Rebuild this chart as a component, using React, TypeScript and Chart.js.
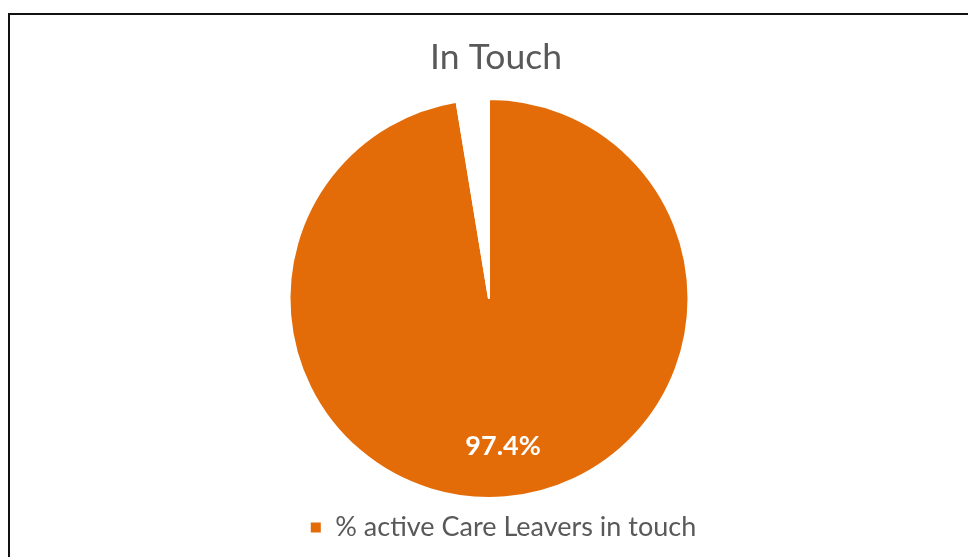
import React, { useEffect, useRef } from "react";
import { Chart, registerables } from "chart.js";

Chart.register(...registerables);

const categories = ["% active Care Leavers in touch", "Not in touch"];
const values = [97.4, 2.6];
const valueLabels = ["97.4%", ""];
const sliceColors = ["#E36C09", "#FFFFFF"];
const titleText = "In Touch";

const FONT = "Lato, 'Open Sans', sans-serif";

const dataLabelPlugin = {
  id: "dataLabelPlugin",
  afterLayout(chart: any) {
    // Pie sits slightly left of the title/legend centre line in the original
    chart.chartArea.left -= 14;
    chart.chartArea.right -= 14;
  },
  afterDatasetsDraw(chart: any) {
    const meta = chart.getDatasetMeta(0);
    const ctx = chart.ctx;
    ctx.save();
    meta.data.forEach((arc: any, i: number) => {
      const text = valueLabels[i];
      if (!text) return;
      const { x, y, startAngle, endAngle, outerRadius } = arc.getProps(
        ["x", "y", "startAngle", "endAngle", "outerRadius"],
        true
      );
      const mid = (startAngle + endAngle) / 2;
      const r = outerRadius * 0.745;
      ctx.fillStyle = "#FFFFFF";
      ctx.font = `bold 27px ${FONT}`;
      ctx.textAlign = "center";
      ctx.textBaseline = "middle";
      ctx.fillText(text, x + Math.cos(mid) * r + 2, y + Math.sin(mid) * r);
    });
    // chart title
    ctx.fillStyle = "#595959";
    ctx.font = `normal 35.5px ${FONT}`;
    ctx.textAlign = "center";
    ctx.textBaseline = "middle";
    ctx.fillText(titleText, 496, 58);
    ctx.restore();
  },
};

export default function App() {
  const ref = useRef<HTMLCanvasElement | null>(null);
  useEffect(() => {
    if (!ref.current) return;
    const chart = new Chart(ref.current, {
      type: "pie",
      data: {
        labels: categories,
        datasets: [
          {
            data: values,
            backgroundColor: sliceColors,
            borderColor: "#FFFFFF",
            borderWidth: 2,
          },
        ],
      },
      options: {
        animation: false,
        responsive: false,
        layout: { padding: { left: 38, right: 0, top: 98, bottom: 6 } },
        plugins: {
          tooltip: { enabled: false },
          title: { display: false },
          legend: {
            position: "bottom",
            labels: {
              filter: (item: any) => item.index === 0,
              color: "#595959",
              font: { family: FONT, size: 27 },
              boxWidth: 12,
              boxHeight: 12,
              padding: 15,
            },
          },
        },
      },
      plugins: [dataLabelPlugin],
    });
    return () => chart.destroy();
  }, []);

  return (
    <div style={{ position: "absolute", left: 0, top: 0, width: 968, height: 557, background: "#fff", overflow: "hidden" }}>
      <canvas ref={ref} width={968} height={557} style={{ position: "absolute", left: 0, top: 0 }} />
      <div
        style={{
          position: "absolute",
          left: 8,
          top: 13,
          width: 1000,
          height: 600,
          border: "2px solid #111",
          boxSizing: "border-box",
          pointerEvents: "none",
        }}
      />
    </div>
  );
}
